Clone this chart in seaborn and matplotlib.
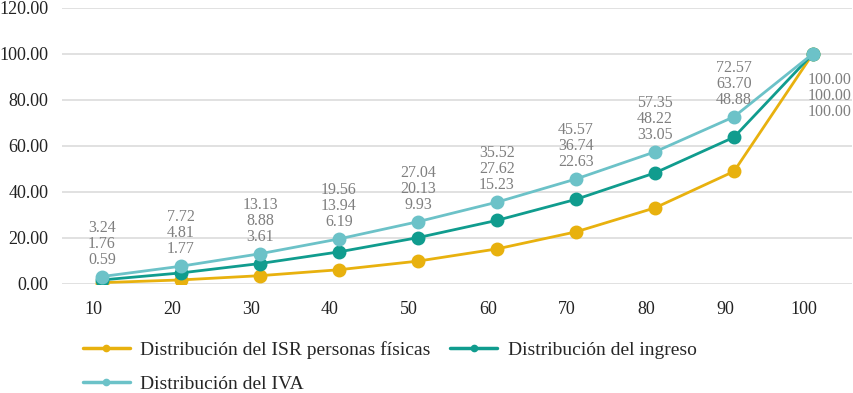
import matplotlib
matplotlib.use("Agg")
import matplotlib.pyplot as plt
import matplotlib.transforms as mtransforms
from matplotlib.lines import Line2D
import pandas as pd
import seaborn as sns

deciles = [10, 20, 30, 40, 50, 60, 70, 80, 90, 100]
isr = [0.59, 1.77, 3.61, 6.19, 9.93, 15.23, 22.63, 33.05, 48.88, 100.00]
ingreso = [1.76, 4.81, 8.88, 13.94, 20.13, 27.62, 36.74, 48.22, 63.70, 100.00]
iva = [3.24, 7.72, 13.13, 19.56, 27.04, 35.52, 45.57, 57.35, 72.57, 100.00]

series = ["Distribución del ISR personas físicas",
          "Distribución del ingreso",
          "Distribución del IVA"]
colors = ["#E8B10E", "#109C8E", "#6CC2C8"]

df = pd.concat([
    pd.DataFrame({"decil": deciles, "valor": isr, "serie": series[0]}),
    pd.DataFrame({"decil": deciles, "valor": ingreso, "serie": series[1]}),
    pd.DataFrame({"decil": deciles, "valor": iva, "serie": series[2]}),
])

sns.set_theme(style="white")
plt.rcParams['font.family'] = ['Liberation Serif', 'DejaVu Serif']

fig = plt.figure(figsize=(8.54, 3.93), dpi=100)
ax = fig.add_axes([62.5 / 854, 1 - 284 / 393, 790 / 854, 276.5 / 393])

ax.yaxis.grid(True, color="#d9d9d9", linewidth=1.1)
ax.set_axisbelow(True)

sns.pointplot(data=df, x="decil", y="valor", hue="serie", hue_order=series,
              palette=colors, markers="o", markersize=8.5, linewidth=2,
              errorbar=None, legend=False, ax=ax)

ax.set_xlim(-0.5, 9.5)
ax.set_ylim(0, 120)
ax.set_yticks(range(0, 121, 20))
ax.set_yticklabels([f"{v:.2f}" for v in range(0, 121, 20)])
ax.set_xlabel("")
ax.set_ylabel("")
for s in ax.spines.values():
    s.set_visible(False)
ax.tick_params(axis="both", length=0, labelsize=13, labelcolor="#222222")
ax.tick_params(axis="y", pad=10)
ax.tick_params(axis="x", pad=12)

# category labels sit a bit left of the points, as in the original
off = mtransforms.ScaledTranslation(-9 / 100, 0, fig.dpi_scale_trans)
for lab in ax.get_xticklabels():
    lab.set_transform(lab.get_transform() + off)

for i in range(len(deciles)):
    txt = f"{iva[i]:.2f}\n{ingreso[i]:.2f}\n{isr[i]:.2f}"
    if i < len(deciles) - 1:
        ax.annotate(txt, (i, iva[i]), xytext=(0, 6.5), textcoords="offset points",
                    ha="center", va="bottom", fontsize=11.5, color="#7f7f7f",
                    linespacing=1.0)
    else:
        ax.annotate(txt, (i, iva[i]), xytext=(-4, -13), textcoords="offset points",
                    ha="left", va="top", fontsize=11.5, color="#7f7f7f",
                    linespacing=1.0)

handles = [Line2D([0], [0], color=c, lw=2.5, marker="o", markersize=4.5) for c in colors]
order = [0, 2, 1]
fig.legend([handles[k] for k in order], [series[k] for k in order],
           loc="upper left", bbox_to_anchor=(83 / 854, 1 - 341 / 393),
           ncol=2, frameon=False, fontsize=14, handlelength=2.4,
           handletextpad=0.55, columnspacing=1.0, labelspacing=0.85,
           borderaxespad=0, borderpad=0)

fig.savefig("out.png", dpi=100)
